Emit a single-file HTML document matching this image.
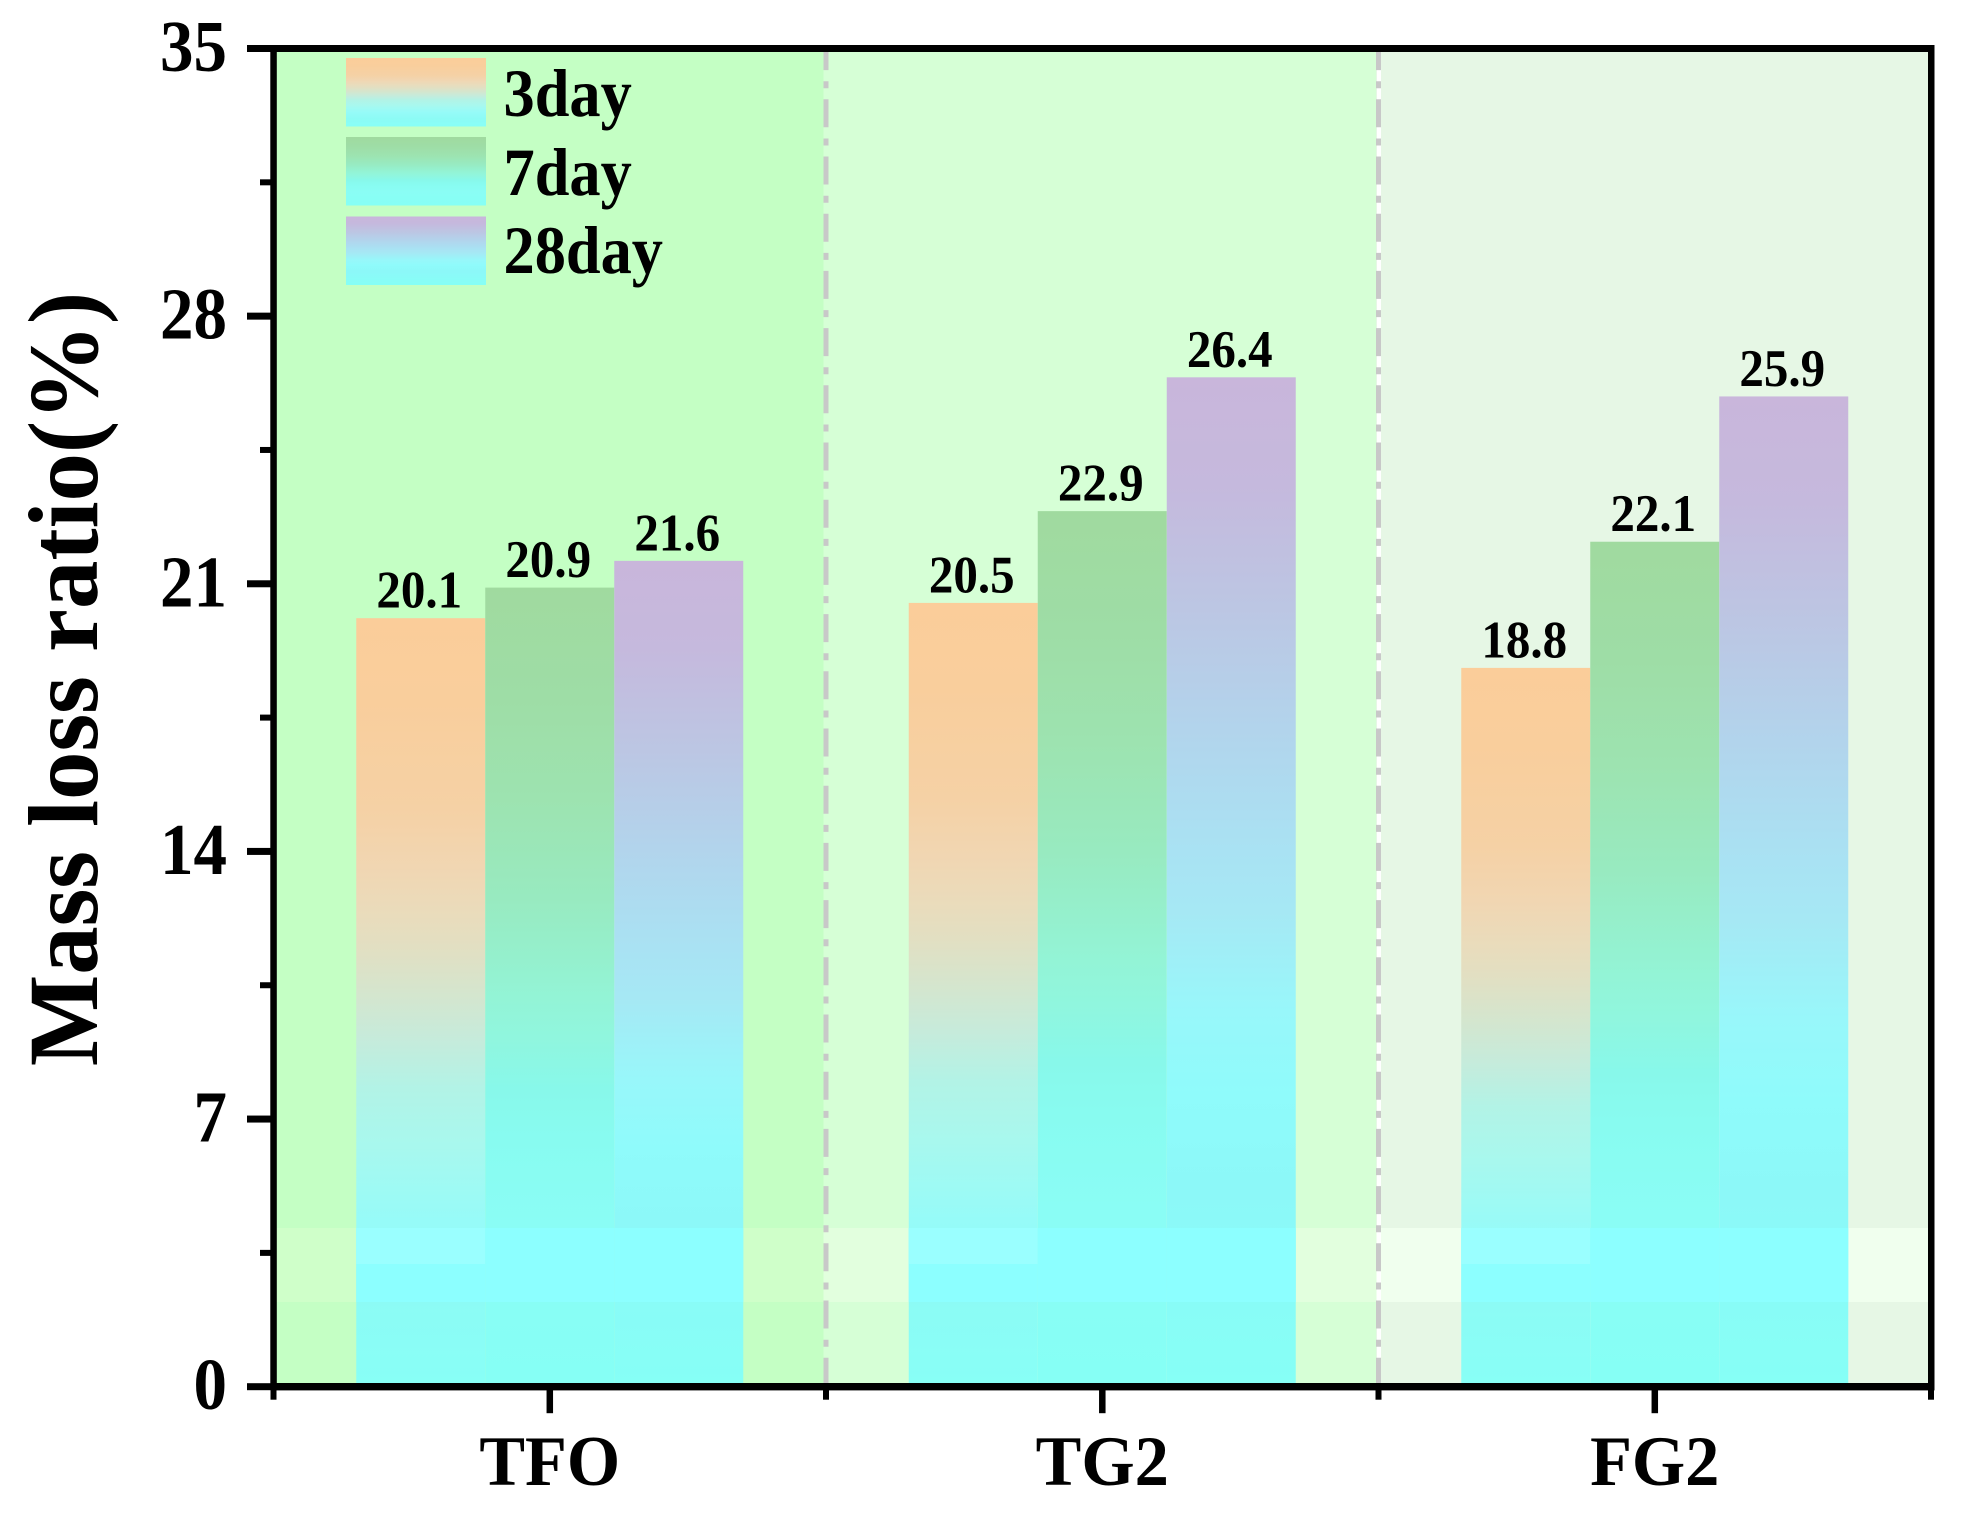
<!DOCTYPE html>
<html lang="en">
<head>
<meta charset="utf-8">
<title>Mass loss ratio chart</title>
<style>
html,body{margin:0;padding:0;background:#fff;width:1963px;height:1519px;overflow:hidden}
svg{display:block}
text{font-family:"Liberation Serif",serif;font-weight:bold;fill:#000}
</style>
</head>
<body>
<svg id="chart" xmlns="http://www.w3.org/2000/svg" width="1963" height="1519" viewBox="0 0 1963 1519">
  <defs>
    <linearGradient id="grad-3day" x1="0" y1="0" x2="0" y2="1">
      <stop offset="0" stop-color="#FBCD9A"/><stop offset="0.107" stop-color="#F9CE9C"/>
      <stop offset="0.25" stop-color="#F5D1A5"/>
      <stop offset="0.325" stop-color="#F1D6B2"/><stop offset="0.39" stop-color="#E9DCBC"/>
      <stop offset="0.43" stop-color="#E2DFC2"/><stop offset="0.497" stop-color="#D3E6CF"/>
      <stop offset="0.55" stop-color="#C6EBDB"/><stop offset="0.614" stop-color="#B2F3E6"/>
      <stop offset="0.69" stop-color="#A8F8EE"/><stop offset="0.757" stop-color="#9CFAF5"/>
      <stop offset="0.79" stop-color="#96FBF8"/><stop offset="0.89" stop-color="#8CFBF5"/>
      <stop offset="1" stop-color="#88FFF6"/>
    </linearGradient>
    <linearGradient id="grad-7day" x1="0" y1="0" x2="0" y2="1">
      <stop offset="0" stop-color="#A0DA9F"/><stop offset="0.14" stop-color="#9EDDA6"/>
      <stop offset="0.265" stop-color="#9DE3B0"/><stop offset="0.39" stop-color="#98EAC0"/>
      <stop offset="0.516" stop-color="#93F4D6"/><stop offset="0.566" stop-color="#90F6DE"/>
      <stop offset="0.63" stop-color="#88F8EA"/><stop offset="0.69" stop-color="#88FBF0"/>
      <stop offset="0.8" stop-color="#8AFDF5"/><stop offset="1" stop-color="#86FFF5"/>
    </linearGradient>
    <linearGradient id="grad-28day" x1="0" y1="0" x2="0" y2="1">
      <stop offset="0" stop-color="#C9B6DB"/><stop offset="0.108" stop-color="#C5B9DD"/>
      <stop offset="0.229" stop-color="#BCC6E3"/><stop offset="0.35" stop-color="#B2D4EC"/>
      <stop offset="0.47" stop-color="#A9E2F3"/><stop offset="0.53" stop-color="#A6E8F4"/>
      <stop offset="0.63" stop-color="#98F7FA"/><stop offset="0.713" stop-color="#8FFBFB"/>
      <stop offset="0.807" stop-color="#8CF8F8"/><stop offset="1" stop-color="#86FFF6"/>
    </linearGradient>
  </defs>
  <g id="backgrounds"></g>
  <g id="separators"></g>
  <g id="bars"></g>
  <g id="values"></g>
  <g id="legend"></g>
  <g id="axes"></g>
  <text transform="translate(97,679) rotate(-90) scale(1,1.03)" text-anchor="middle" font-size="96.8">Mass loss ratio(%)</text>
</svg>
<script>
const categories = ["TFO", "TG2", "FG2"];
const seriesNames = ["3day", "7day", "28day"];
const values3day = [20.1, 20.5, 18.8];
const values7day = [20.9, 22.9, 22.1];
const values28day = [21.6, 26.4, 25.9];
const yMajorTicks = [0, 7, 14, 21, 28, 35];
const yMinorTicks = [3.5, 10.5, 17.5, 24.5, 31.5];

const NS = "http://www.w3.org/2000/svg";
const seriesValues = [values3day, values7day, values28day];
const axisLeft = 273.5, axisRight = 1931, axisBottom = 1386.7, axisTop = 48.5;
const yMax = 35, barWidth = 129, textStretch = 1.09;
const step = (axisRight - axisLeft) / categories.length;
function yScale(v) { return axisBottom - v / yMax * (axisBottom - axisTop); }
function xBand(i) { return axisLeft + step * i; }
function xCenter(i) { return xBand(i) + step / 2; }
function barX(i, s) { return xCenter(i) + (s - seriesNames.length / 2) * barWidth; }

function make(tag, parent, attrs, txt) {
  const el = document.createElementNS(NS, tag);
  for (const k in attrs) el.setAttribute(k, attrs[k]);
  if (txt !== undefined) el.textContent = txt;
  parent.appendChild(el);
  return el;
}
function stretchedText(parent, x, y, size, anchor, stretch, txt) {
  return make("text", parent, {transform: "translate(" + x + "," + y + ") scale(1," + stretch + ")", "text-anchor": anchor, "font-size": size}, txt);
}

/* backgrounds */
const bgG = document.getElementById("backgrounds");
const bgBase = ["#C4FFC4", "#D6FFD6", "#E6F7E5"];
const bgBand = ["#CFFFC9", "#E2FFDE", "#F0FFEE"];
const bandTop = 1228, bandBottom = 1302;
categories.forEach(function (c, i) {
  const x0 = i === 0 ? axisLeft : xBand(i) - 2.5;
  const x1 = i === categories.length - 1 ? axisRight : xBand(i + 1) - 2.5;
  const r = make("rect", bgG, {x: x0, y: axisTop, width: x1 - x0, height: axisBottom - axisTop - 3, fill: bgBase[i]});
  
  
  const b = make("rect", bgG, {x: x0, y: bandTop, width: x1 - x0, height: bandBottom - bandTop, fill: bgBand[i]});
  
  
});

/* separators */
const sepG = document.getElementById("separators");
[1, 2].forEach(function (i) {
  if (i === 2) {
    const w = make("line", sepG, {x1: xBand(i) + 0.5, x2: xBand(i) + 0.5, y1: axisTop, y2: axisBottom - 3, stroke: "#FFFFFF", "stroke-width": 4});
    
    
  }
  const l = make("line", sepG, {x1: xBand(i), x2: xBand(i), y1: axisBottom - 3, y2: axisTop, stroke: "#C8C8C8", "stroke-width": 5, "stroke-dasharray": "28 11 7 11.2", "stroke-dashoffset": 2});
  
  
});

/* bars and value labels */
const barG = document.getElementById("bars");
const valG = document.getElementById("values");
categories.forEach(function (c, i) {
  seriesNames.forEach(function (name, s) {
    const v = seriesValues[s][i];
    const top = yScale(v);
    const x = barX(i, s);
    const r = make("rect", barG, {x: x, y: top, width: barWidth, height: axisBottom - 3 - top, fill: "url(#grad-" + name + ")"});
    
    
    const t0 = Math.max(top, bandTop);
    if (t0 < bandBottom) {
      const o = make("rect", barG, {x: x, y: t0, width: barWidth, height: bandBottom - t0, fill: "#8CFFFF"});
      
      
      if (s === 0 && t0 < 1264) {
        const o2 = make("rect", barG, {x: x, y: t0, width: barWidth, height: 1264 - t0, fill: "#9AFFFF"});
        
        
      }
    }
    const t = stretchedText(valG, x + barWidth / 2 - 1.5, top - 10.5, 49, "middle", 1.07, v.toFixed(1));
    
    
  });
});

/* legend */
const legG = document.getElementById("legend");
const legendTops = [58, 137, 216.5];
const legendBase = [116, 195, 273];
seriesNames.forEach(function (name, s) {
  const r = make("rect", legG, {x: 346, y: legendTops[s], width: 140, height: 68.5, fill: "url(#grad-" + name + ")"});
  
  
  const t = stretchedText(legG, 503.5, legendBase[s], 62.4, "start", textStretch, name);
  
  
});

/* axes */
const axG = document.getElementById("axes");
const black = "#000";
function axisRect(n, x, y, w, h) {
  const r = make("rect", axG, {x: x, y: y, width: w, height: h, fill: black});
  
  
}
axisRect("left-spine", axisLeft - 3.2, axisTop - 3.5, 6.5, axisBottom - axisTop + 7);
axisRect("right-spine", axisRight - 3, axisTop - 3.5, 6.5, axisBottom - axisTop + 7);
axisRect("top-spine", axisLeft - 3, axisTop - 3.5, axisRight - axisLeft + 6.5, 7);
axisRect("bottom-spine", axisLeft - 3, axisBottom - 3.7, axisRight - axisLeft + 6.5, 7.4);
yMajorTicks.forEach(function (v) {
  const y = yScale(v);
  axisRect("y-major-tick", 247, y - 3.5, 26, 7);
  const t = stretchedText(axG, 227, y + 22.5, 67, "end", textStretch, String(v));
  
  
});
yMinorTicks.forEach(function (v) {
  axisRect("y-minor-tick", 260, yScale(v) - 3, 13, 6);
});
categories.forEach(function (c, i) {
  axisRect("x-major-tick", xCenter(i) - 3.2, axisBottom, 6.5, 26.5);
  const t = stretchedText(axG, xCenter(i), 1485, 68.5, "middle", 1.04, c);
  
  
});
for (let i = 0; i <= categories.length; i++) {
  axisRect("x-minor-tick", xBand(i) - 3, axisBottom, 6, 13);
}
</script>
</body>
</html>
